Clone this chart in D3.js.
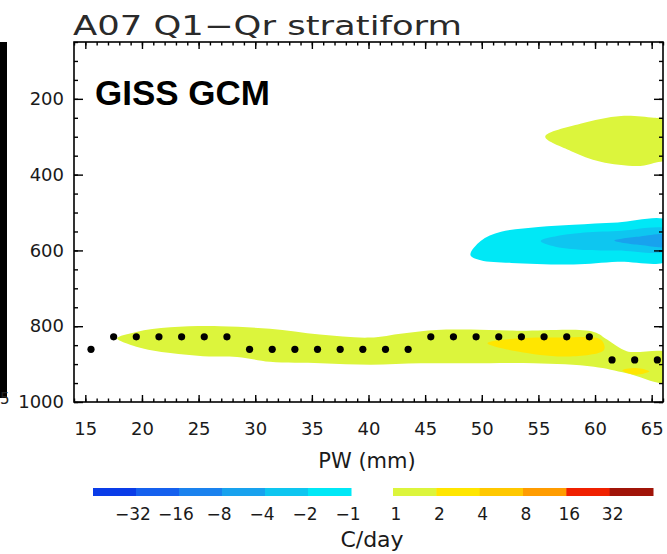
<!DOCTYPE html>
<html>
<head>
<meta charset="utf-8">
<script src="https://cdn.jsdelivr.net/npm/d3@7"></script>
<style>
  body { margin: 0; background: #fff; }
  svg text { font-family: "DejaVu Sans", "Liberation Sans", sans-serif; }
  svg text.model { font-family: "Liberation Sans", Arial, sans-serif; font-weight: bold; }
</style>
</head>
<body>
<svg id="chart" width="667" height="554"></svg>
<script>
// ---- data ----
var title = "A07 Q1\u2212Qr stratiform";
var model = "GISS GCM";

var yTicks = [200, 400, 600, 800, 1000];
var xTicks = [15, 20, 25, 30, 35, 40, 45, 50, 55, 60, 65];

// colour bar levels (C/day)
var negLabels = ["\u221232", "\u221216", "\u22128", "\u22124", "\u22122", "\u22121"];
var posLabels = ["1", "2", "4", "8", "16", "32"];
var negColors = ["#0a3ce8", "#1560ee", "#1a82ee", "#18a2ee", "#0ec6f0", "#00e8f6"];
var posColors = ["#dcf53c", "#ffe600", "#ffc800", "#ff9c00", "#f02000", "#a01408"];

// filled contour regions [PW, pressure]
var upperBlob = [[55.6,300],[58.7,266],[62.3,245],[65.2,250],[66.5,256],[66.5,356],[65.2,369],[64.0,377],[60.5,366],[57.9,338]];
var cyanBlob = [[49.0,612],[49.9,575],[51.7,551],[55,538],[58.1,532],[62,526],[66.5,523],[66.5,625],[62,630],[58.1,637],[52.6,633],[49.9,626]];
var blueBlob = [[55.2,575],[57,560],[58.7,554],[62,549],[66.5,546],[66.5,599],[62,600],[59.4,599],[56.5,590]];
var darkBlob = [[61.7,574],[64,563],[66.5,561],[66.5,588],[64,586]];
var lowBand = [[17.8,832],[19.5,815],[22.5,803],[26.9,800],[31.3,807],[35.7,822],[40.1,830],[43.0,819],[46.0,810],[49.0,809],[53.1,812],[59.9,815],[61.1,836],[62.8,866],[66.5,872],
               [66.5,948],[62.8,924],[59.9,907],[54.6,898],[49.0,898],[44.6,898],[40.2,902],[35.8,898],[31.3,894],[28.4,881],[25.4,879],[22.5,871],[19.5,854]];
var yellowCore = [[50.5,845],[53.2,832],[57.0,830],[60.5,835],[60.8,862],[57.6,880],[53.2,867]];
var yellowSpot = [[62.4,916],[63.6,910],[64.8,919],[63.6,928]];

// black dots (PW, pressure)
var dotPW = [15.5, 17.5, 19.5, 21.5, 23.5, 25.5, 27.5, 29.5, 31.5, 33.5, 35.5, 37.5, 39.5,
             41.5, 43.5, 45.5, 47.5, 49.5, 51.5, 53.5, 55.5, 57.5, 59.5, 61.5, 63.5, 65.5];
var dotP  = [861, 828, 828, 828, 828, 828, 828, 861, 861, 861, 861, 861, 861,
             861, 861, 828, 828, 828, 828, 828, 828, 828, 828, 889, 889, 889];

// ---- drawing ----
var svg = d3.select("#chart");
var L = 74, R = 663, T = 42, B = 402;

var x = d3.scaleLinear().domain([14, 66]).range([L, R]);
var y = d3.scaleLinear().domain([50, 1000]).range([T, B]);

svg.append("defs").append("clipPath").attr("id", "plotclip")
  .append("rect").attr("x", L).attr("y", T).attr("width", R - L).attr("height", B - T);

// piece of the neighbouring panel on the left
svg.append("rect").attr("x", 0).attr("y", 42).attr("width", 7).attr("height", 356).attr("fill", "#000");
svg.append("text").attr("x", 0).attr("y", 404)
  .attr("font-size", 15).attr("fill", "#222").text("5");

var area = svg.append("g").attr("clip-path", "url(#plotclip)");
var shape = d3.line().x(function(d) { return x(d[0]); }).y(function(d) { return y(d[1]); })
  .curve(d3.curveCatmullRomClosed.alpha(0.5));

function blob(pts, col) {
  area.append("path").attr("d", shape(pts)).attr("fill", col).attr("stroke", "none");
}
blob(upperBlob, posColors[0]);
blob(cyanBlob, negColors[5]);
blob(blueBlob, negColors[4]);
blob(darkBlob, negColors[3]);
blob(lowBand, posColors[0]);
blob(yellowCore, posColors[1]);
blob(yellowSpot, posColors[1]);

area.selectAll("circle.dot")
  .data(dotPW)
  .enter()
  .append("circle")
  .attr("class", "dot")
  .attr("cx", function(d) { return x(d); })
  .attr("cy", function(d, i) { return y(dotP[i]); })
  .attr("r", 3.6)
  .attr("fill", "#000");

// axes
var minorY = d3.range(50, 1001, 50);
var minorX = d3.range(14, 67, 1);

function styleAxis(g) {
  g.select(".domain").remove();
  g.selectAll("line").attr("stroke", "#000").attr("stroke-width", 1.4);
  g.selectAll("text").attr("font-size", 18).attr("fill", "#1a1a1a");
}

svg.append("g").attr("transform", "translate(" + L + ",0)")
  .call(d3.axisLeft(y).tickValues(minorY).tickSizeInner(-4).tickSizeOuter(0).tickFormat(""))
  .call(styleAxis);
svg.append("g").attr("transform", "translate(" + L + ",0)")
  .call(d3.axisLeft(y).tickValues(yTicks).tickSizeInner(-9).tickSizeOuter(0).tickPadding(10).tickFormat(d3.format("d")))
  .call(styleAxis);
svg.append("g").attr("transform", "translate(" + R + ",0)")
  .call(d3.axisRight(y).tickValues(minorY).tickSizeInner(-4).tickSizeOuter(0).tickFormat(""))
  .call(styleAxis);
svg.append("g").attr("transform", "translate(" + R + ",0)")
  .call(d3.axisRight(y).tickValues(yTicks).tickSizeInner(-9).tickSizeOuter(0).tickFormat(""))
  .call(styleAxis);

svg.append("g").attr("transform", "translate(0," + B + ")")
  .call(d3.axisBottom(x).tickValues(minorX).tickSizeInner(-3.5).tickSizeOuter(0).tickFormat(""))
  .call(styleAxis);
svg.append("g").attr("transform", "translate(0," + B + ")")
  .call(d3.axisBottom(x).tickValues(xTicks).tickSizeInner(-7).tickSizeOuter(0).tickPadding(20))
  .call(styleAxis);
svg.append("g").attr("transform", "translate(0," + T + ")")
  .call(d3.axisTop(x).tickValues(minorX).tickSizeInner(-3.5).tickSizeOuter(0).tickFormat(""))
  .call(styleAxis);
svg.append("g").attr("transform", "translate(0," + T + ")")
  .call(d3.axisTop(x).tickValues(xTicks).tickSizeInner(-7).tickSizeOuter(0).tickFormat(""))
  .call(styleAxis);

svg.append("rect").attr("x", L).attr("y", T).attr("width", R - L).attr("height", B - T)
  .attr("fill", "none").attr("stroke", "#000").attr("stroke-width", 1.6);

// titles
svg.append("text").attr("x", L - 1).attr("y", 35).attr("font-size", 27).attr("fill", "#2a2a2a")
  .attr("textLength", 389).attr("lengthAdjust", "spacingAndGlyphs").text(title);
svg.append("text").attr("class", "model").attr("x", 95).attr("y", 105)
  .attr("font-size", 35).attr("fill", "#000").text(model);
svg.append("text").attr("x", 367).attr("y", 468).attr("text-anchor", "middle")
  .attr("font-size", 21).attr("fill", "#1a1a1a").text("PW (mm)");

// colour bar
var cbNeg = d3.scaleBand().domain(d3.range(negColors.length)).range([93, 351]);
var cbPos = d3.scaleBand().domain(d3.range(posColors.length)).range([393, 653]);
var cb = svg.append("g");
cb.selectAll("rect.neg").data(negColors).enter().append("rect").attr("class", "neg")
  .attr("x", function(d, i) { return cbNeg(i); }).attr("y", 488)
  .attr("width", cbNeg.bandwidth() + 0.5).attr("height", 8).attr("fill", function(d) { return d; });
cb.selectAll("rect.pos").data(posColors).enter().append("rect").attr("class", "pos")
  .attr("x", function(d, i) { return cbPos(i); }).attr("y", 488)
  .attr("width", cbPos.bandwidth() + 0.5).attr("height", 8).attr("fill", function(d) { return d; });
cb.selectAll("text.neg").data(negLabels).enter().append("text").attr("class", "neg")
  .attr("x", function(d, i) { return cbNeg(i) + cbNeg.bandwidth() - 3; }).attr("y", 520)
  .attr("text-anchor", "middle").attr("font-size", 17).attr("fill", "#1a1a1a").text(function(d) { return d; });
cb.selectAll("text.pos").data(posLabels).enter().append("text").attr("class", "pos")
  .attr("x", function(d, i) { return cbPos(i) + 3; }).attr("y", 520)
  .attr("text-anchor", "middle").attr("font-size", 17).attr("fill", "#1a1a1a").text(function(d) { return d; });
svg.append("text").attr("x", 372).attr("y", 547).attr("text-anchor", "middle")
  .attr("font-size", 22).attr("fill", "#1a1a1a").text("C/day");
</script>
</body>
</html>
